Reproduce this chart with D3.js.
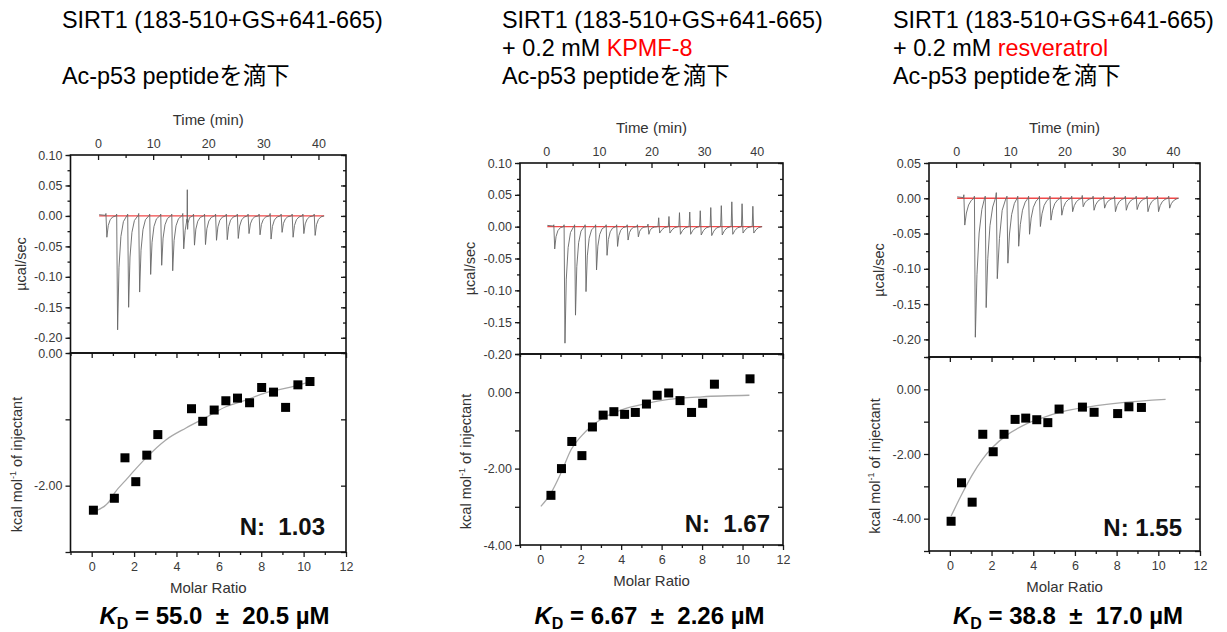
<!DOCTYPE html>
<html><head><meta charset="utf-8">
<script src="https://cdn.jsdelivr.net/npm/d3@7"></script>
<style>body{margin:0;background:#fff} svg{display:block}</style>
</head><body>
<svg id="c" width="1227" height="632"></svg>
<script>
// ---------------- DATA ----------------
const titleLine1 = ["SIRT1 (183-510+GS+641-665)", "SIRT1 (183-510+GS+641-665)", "SIRT1 (183-510+GS+641-665)"];
const titlePrefix2 = ["", "+ 0.2 mM ", "+ 0.2 mM "];
const ligands = ["", "KPMF-8", "resveratrol"];
const titleLine3 = ["Ac-p53 peptideを滴下", "Ac-p53 peptideを滴下", "Ac-p53 peptideを滴下"];
const nLabels = ["N:  1.03", "N:  1.67", "N: 1.55"];
const kdValues = ["55.0 ± 20.5", "6.67 ± 2.26", "38.8 ± 17.0"];

const timeTicks = [0, 10, 20, 30, 40];
const molarTicks = [0, 2, 4, 6, 8, 10, 12];
const powerTicks1 = [0.10, 0.05, 0.00, -0.05, -0.10, -0.15, -0.20];
const powerTicks2 = [0.10, 0.05, 0.00, -0.05, -0.10, -0.15, -0.20];
const powerTicks3 = [0.05, 0.00, -0.05, -0.10, -0.15, -0.20];
const heatTicks1 = [0.00, -2.00];
const heatTicks2 = [0.00, -2.00, -4.00];
const heatTicks3 = [0.00, -2.00, -4.00];

// injection times (min)
const injectionTimes = [1.35, 3.3, 5.3, 7.3, 9.3, 11.3, 13.3, 15.3, 17.25, 19.25, 21.25, 23.2, 25.2, 27.15, 29.15, 31.15, 33.15, 35.15, 37.1, 39.15];
// thermogram peak minima / maxima (µcal/sec)
const peakMin1 = [-0.035, -0.187, -0.150, -0.125, -0.096, -0.081, -0.090, -0.054, -0.048, -0.047, -0.040, -0.039, -0.037, -0.029, -0.031, -0.038, -0.027, -0.035, -0.029, -0.032];
const peakMax1 = [0.004, 0.003, 0.003, 0.004, 0.003, 0.003, 0.003, 0.004, 0.003, 0.003, 0.003, 0.003, 0.003, 0.003, 0.003, 0.004, 0.003, 0.003, 0.003, 0.003];
const spikeTimes1 = [16.2];
const spikeValues1 = [0.043];
const peakMin2 = [-0.035, -0.183, -0.139, -0.102, -0.068, -0.045, -0.031, -0.021, -0.016, -0.012, -0.010, -0.010, -0.012, -0.012, -0.013, -0.014, -0.013, -0.012, -0.010, -0.010];
const peakMax2 = [0.003, 0.003, 0.003, 0.003, 0.003, 0.003, 0.003, 0.003, 0.003, 0.004, 0.014, 0.016, 0.022, 0.023, 0.025, 0.030, 0.033, 0.039, 0.036, 0.032];
const peakMin3 = [-0.038, -0.197, -0.155, -0.114, -0.092, -0.068, -0.051, -0.040, -0.031, -0.024, -0.019, -0.012, -0.017, -0.014, -0.019, -0.017, -0.016, -0.019, -0.019, -0.014];
const peakMax3 = [0.005, 0.003, 0.003, 0.008, 0.003, 0.003, 0.003, 0.003, 0.003, 0.003, 0.003, 0.004, 0.003, 0.003, 0.003, 0.003, 0.003, 0.003, 0.003, 0.003];

// integrated heats (kcal/mol of injectant) vs molar ratio
const molar1 = [0.08, 1.07, 1.57, 2.08, 2.60, 3.12, 4.71, 5.24, 5.78, 6.33, 6.88, 7.45, 8.02, 8.58, 9.15, 9.73, 10.30];
const heat1 = [-2.37, -2.19, -1.58, -1.94, -1.54, -1.23, -0.84, -1.03, -0.86, -0.72, -0.68, -0.75, -0.52, -0.59, -0.82, -0.48, -0.43];
const fitX1 = [0.27, 0.8, 1.1, 1.6, 2.1, 2.6, 3.5, 4.45, 5.4, 6.33, 7.28, 8.2, 9.17, 10.35];
const fitY1 = [-2.37, -2.25, -2.10, -1.92, -1.74, -1.57, -1.31, -1.13, -0.97, -0.81, -0.71, -0.60, -0.53, -0.43];

const molar2 = [0.53, 1.05, 1.56, 2.06, 2.58, 3.11, 3.64, 4.17, 4.70, 5.25, 5.78, 6.35, 6.91, 7.48, 8.03, 8.61, 10.37];
const heat2 = [-2.70, -2.00, -1.29, -1.66, -0.91, -0.60, -0.51, -0.58, -0.53, -0.31, -0.08, -0.02, -0.22, -0.53, -0.29, 0.21, 0.35];
const fitX2 = [0.03, 0.53, 1.03, 1.53, 2.03, 2.53, 3.2, 4.2, 5.2, 6.35, 8.0, 10.34];
const fitY2 = [-2.99, -2.64, -2.11, -1.50, -1.15, -0.89, -0.65, -0.43, -0.30, -0.19, -0.12, -0.08];

const molar3 = [0.06, 0.56, 1.07, 1.58, 2.08, 2.60, 3.13, 3.64, 4.17, 4.70, 5.24, 6.36, 6.92, 8.05, 8.59, 9.19];
const heat3 = [-4.08, -2.89, -3.49, -1.39, -1.93, -1.39, -0.93, -0.89, -0.94, -1.03, -0.61, -0.55, -0.71, -0.75, -0.54, -0.56];
const fitX3 = [0.06, 0.61, 1.09, 1.57, 2.04, 2.68, 3.48, 4.44, 5.4, 6.68, 8.27, 10.35];
const fitY3 = [-3.92, -3.20, -2.63, -2.16, -1.80, -1.44, -1.13, -0.88, -0.69, -0.54, -0.41, -0.31];

// ---------------- LAYOUT ----------------
const FONT = "'Liberation Sans', Arial, 'Noto Sans CJK JP', sans-serif";
const panels = [
  {tx: 62, L: 70.5, R: 346, topY: 155, midY: 353, botY: 552, pDom: [-0.225, 0.10], hDom: [-3, 0], kdX: 214.5, nDx: 21, nDy: 17,
   pTicks: powerTicks1, hTicks: heatTicks1, pMin: peakMin1, pMax: peakMax1, spT: spikeTimes1, spV: spikeValues1,
   mx: molar1, my: heat1, fx: fitX1, fy: fitY1, slow: false},
  {tx: 502, L: 520, R: 783, topY: 163, midY: 354, botY: 545, pDom: [-0.20, 0.10], hDom: [-4, 1], kdX: 649.5, nDx: 13, nDy: 13.5,
   pTicks: powerTicks2, hTicks: heatTicks2, pMin: peakMin2, pMax: peakMax2, spT: [], spV: [],
   mx: molar2, my: heat2, fx: fitX2, fy: fitY2, slow: false},
  {tx: 893, L: 929, R: 1200, topY: 163, midY: 357, botY: 551, pDom: [-0.225, 0.05], hDom: [-5, 1], kdX: 1068, nDx: 18, nDy: 15,
   pTicks: powerTicks3, hTicks: heatTicks3, pMin: peakMin3, pMax: peakMax3, spT: [], spV: [],
   mx: molar3, my: heat3, fx: fitX3, fy: fitY3, slow: true}
];

const svg = d3.select("#c");
const fmt = d => (Math.abs(d) < 1e-9 ? 0 : d).toFixed(2);
const rnd = v => Math.round(v * 1000) / 1000;

function styleAxis(g) {
  g.select(".domain").remove();
  g.selectAll("line").attr("stroke", "#1a1a1a").attr("stroke-width", 1.3);
  g.selectAll("text").attr("font-family", FONT).attr("font-size", 12.5).attr("fill", "#3a3a3a");
  return g;
}

panels.forEach((p, i) => {
  const g = svg.append("g");
  // titles
  g.append("text").attr("x", p.tx).attr("y", 28).attr("font-family", FONT).attr("font-size", 23.4).attr("fill", "#000").text(titleLine1[i]);
  if (ligands[i]) {
    const t2 = g.append("text").attr("x", p.tx).attr("y", 56).attr("font-family", FONT).attr("font-size", 23.4).attr("fill", "#000").style("white-space", "pre");
    t2.append("tspan").text(titlePrefix2[i]);
    t2.append("tspan").attr("fill", "#ff0000").text(ligands[i]);
  }
  g.append("text").attr("x", p.tx).attr("y", 84).attr("font-family", FONT).attr("font-size", 23.4).attr("fill", "#000").text(titleLine3[i]);

  const xt = d3.scaleLinear().domain([-5, 45]).range([p.L, p.R]);
  const xm = d3.scaleLinear().domain([-1, 12]).range([p.L, p.R]);
  const yp = d3.scaleLinear().domain(p.pDom).range([p.midY, p.topY]);
  const yh = d3.scaleLinear().domain(p.hDom).range([p.botY, p.midY]);

  // ---- top thermogram ----
  const pts = [[0.2, 0.002]];
  injectionTimes.forEach((t, k) => {
    const m = p.pMin[k], M = p.pMax[k];
    pts.push([t, 0.001]);
    if (M > 0.006) {
      pts.push([t + 0.12, M], [t + 0.3, m], [t + 0.7, m * 0.5], [t + 1.2, m * 0.15], [t + 1.9, 0]);
    } else if (p.slow) {
      pts.push([t + 0.08, M], [t + 0.25, m], [t + 0.55, m * 0.55], [t + 0.95, m * 0.25], [t + 1.45, m * 0.08], [t + 1.95, 0]);
    } else {
      pts.push([t + 0.08, M], [t + 0.25, m], [t + 0.5, m * 0.45], [t + 0.85, m * 0.18], [t + 1.3, m * 0.05], [t + 1.9, 0]);
    }
  });
  p.spT.forEach((t, k) => { pts.push([t - 0.05, -0.005], [t, p.spV[k]], [t + 0.05, -0.022], [t + 0.12, -0.012]); });
  pts.push([41, 0]);
  pts.sort((a, b) => a[0] - b[0]);

  g.append("line").attr("x1", xt(0.2)).attr("x2", xt(41)).attr("y1", yp(0)).attr("y2", yp(0))
    .attr("stroke", "#f04848").attr("stroke-width", 1.3);
  g.append("path").datum(pts).attr("fill", "none").attr("stroke", "#666").attr("stroke-width", 0.9)
    .attr("d", d3.line().x(d => xt(d[0])).y(d => yp(d[1])));

  // ---- bottom isotherm ----
  const fit = p.fx.map((x, k) => [x, p.fy[k]]);
  g.append("path").datum(fit).attr("fill", "none").attr("stroke", "#a8a8a8").attr("stroke-width", 1.3)
    .attr("d", d3.line().curve(d3.curveMonotoneX).x(d => xm(d[0])).y(d => yh(d[1])));
  g.selectAll("rect.pt").data(p.mx.map((x, k) => [x, p.my[k]])).join("rect").attr("class", "pt")
    .attr("x", d => xm(d[0]) - 4.5).attr("y", d => yh(d[1]) - 4.5).attr("width", 9).attr("height", 9).attr("fill", "#000");

  // ---- axes ----
  const pStep = 0.025;
  const pMinor = d3.range(Math.ceil(p.pDom[0] / pStep - 1e-6), Math.floor(p.pDom[1] / pStep + 1e-6) + 1).map(k => rnd(k * pStep));
  const hAll = d3.range(p.hDom[0], p.hDom[1] + 1);
  const hSet = new Set(p.hTicks.map(v => rnd(v)));
  const molarMinor = d3.range(-1, 13, 1).filter(v => v % 2 !== 0);

  styleAxis(g.append("g").attr("transform", `translate(${p.L},0)`).call(d3.axisLeft(yp).tickValues(p.pTicks).tickSize(5).tickPadding(3).tickFormat(fmt)));
  styleAxis(g.append("g").attr("transform", `translate(${p.L},0)`).call(d3.axisLeft(yp).tickValues(pMinor).tickSize(3).tickFormat("")));
  styleAxis(g.append("g").attr("transform", `translate(${p.R},0)`).call(d3.axisRight(yp).tickValues(p.pTicks).tickSize(-5).tickFormat("")));
  styleAxis(g.append("g").attr("transform", `translate(${p.R},0)`).call(d3.axisRight(yp).tickValues(pMinor).tickSize(-3).tickFormat("")));
  styleAxis(g.append("g").attr("transform", `translate(0,${p.topY})`).call(d3.axisTop(xt).tickValues(timeTicks).tickSize(-5).tickPadding(7).tickFormat(d3.format("d"))));
  styleAxis(g.append("g").attr("transform", `translate(0,${p.topY})`).call(d3.axisTop(xt).tickValues([5, 15, 25, 35]).tickSize(-3).tickFormat("")));
  styleAxis(g.append("g").attr("transform", `translate(0,${p.midY})`).call(d3.axisBottom(xm).tickValues(molarTicks).tickSize(5).tickFormat("")));
  styleAxis(g.append("g").attr("transform", `translate(0,${p.midY})`).call(d3.axisBottom(xm).tickValues(molarMinor).tickSize(3).tickFormat("")));

  styleAxis(g.append("g").attr("transform", `translate(${p.L},0)`).call(d3.axisLeft(yh).tickValues(hAll).tickSize(5).tickPadding(3).tickFormat(d => hSet.has(rnd(d)) ? fmt(d) : "")));
  styleAxis(g.append("g").attr("transform", `translate(${p.R},0)`).call(d3.axisRight(yh).tickValues(hAll).tickSize(-5).tickFormat("")));
  styleAxis(g.append("g").attr("transform", `translate(0,${p.botY})`).call(d3.axisBottom(xm).tickValues(molarTicks).tickSize(5).tickPadding(5).tickFormat(d3.format("d"))));
  styleAxis(g.append("g").attr("transform", `translate(0,${p.botY})`).call(d3.axisBottom(xm).tickValues(molarMinor).tickSize(3).tickFormat("")));

  // frames
  g.append("rect").attr("x", p.L).attr("y", p.topY).attr("width", p.R - p.L).attr("height", p.midY - p.topY)
    .attr("fill", "none").attr("stroke", "#111").attr("stroke-width", 1.6);
  g.append("rect").attr("x", p.L).attr("y", p.midY).attr("width", p.R - p.L).attr("height", p.botY - p.midY)
    .attr("fill", "none").attr("stroke", "#111").attr("stroke-width", 1.6);

  // axis titles
  g.append("text").attr("x", (p.L + p.R) / 2).attr("y", p.topY - 30).attr("text-anchor", "middle")
    .attr("font-family", FONT).attr("font-size", 15).attr("fill", "#333").text("Time (min)");
  g.append("text").attr("transform", `translate(${p.L - 45},${(p.topY + p.midY) / 2 + 10}) rotate(-90)`).attr("text-anchor", "middle")
    .attr("font-family", FONT).attr("font-size", 14.5).attr("fill", "#333").text("µcal/sec");
  const kl = g.append("text").attr("transform", `translate(${p.L - 49},${(p.midY + p.botY) / 2 + 12}) rotate(-90)`).attr("text-anchor", "middle")
    .attr("font-family", FONT).attr("font-size", 14.5).attr("fill", "#333");
  kl.append("tspan").text("kcal mol");
  kl.append("tspan").attr("font-size", 9).attr("dy", -6).text("-1");
  kl.append("tspan").attr("dy", 6).text(" of injectant");
  g.append("text").attr("x", (p.L + p.R) / 2).attr("y", p.botY + 41).attr("text-anchor", "middle")
    .attr("font-family", FONT).attr("font-size", 15).attr("fill", "#333").text("Molar Ratio");

  // N value
  g.append("text").attr("x", p.R - p.nDx).attr("y", p.botY - p.nDy).attr("text-anchor", "end")
    .attr("font-family", FONT).attr("font-size", 24).attr("font-weight", "bold").attr("fill", "#111")
    .style("white-space", "pre").text(nLabels[i]);

  // KD
  const kd = g.append("text").attr("x", p.kdX).attr("y", 624).attr("text-anchor", "middle")
    .attr("font-family", FONT).attr("font-size", 24).attr("font-weight", "bold").attr("fill", "#000").style("white-space", "pre");
  kd.append("tspan").attr("font-style", "italic").text("K");
  kd.append("tspan").attr("font-size", 16).attr("dy", 5).text("D");
  kd.append("tspan").attr("dy", -5).text(" = " + kdValues[i].replace("±", " ± ") + " µM");
});
</script>
</body></html>
